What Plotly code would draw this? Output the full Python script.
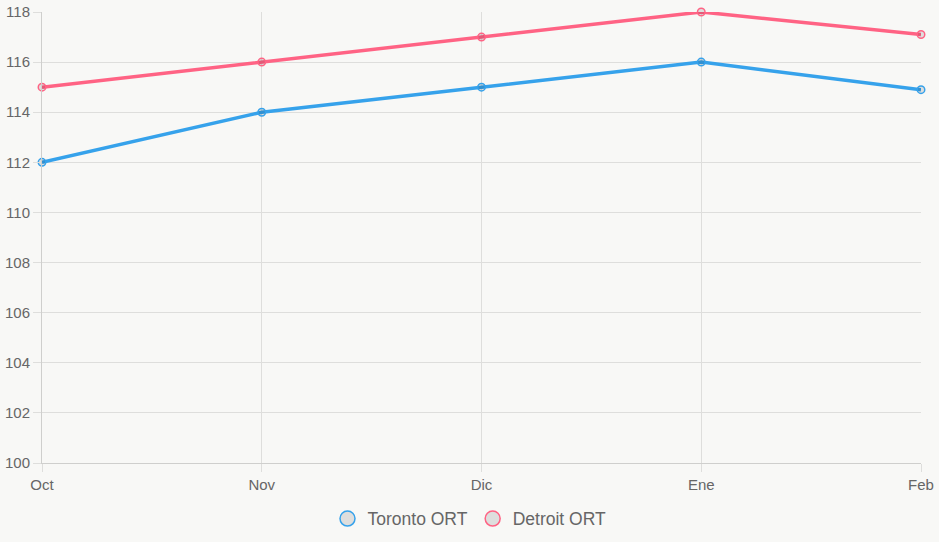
import plotly.graph_objects as go

months = ["Oct", "Nov", "Dic", "Ene", "Feb"]
toronto = [112, 114, 115, 116, 114.9]
detroit = [115, 116, 117, 118, 117.1]
y_ticks = [100, 102, 104, 106, 108, 110, 112, 114, 116, 118]

series = [
    ("Toronto ORT", toronto, "rgb(54,162,235)"),
    ("Detroit ORT", detroit, "rgb(255,99,132)"),
]

fig = go.Figure()
for name, vals, col in series:
    fig.add_trace(go.Scatter(
        x=months, y=vals, mode="lines+markers", name=name, showlegend=False,
        cliponaxis=False,
        line=dict(color=col, width=3.5),
        marker=dict(size=7.5, color="rgba(0,0,0,0.1)", line=dict(color=col, width=1.5)),
    ))
for name, vals, col in series:
    fig.add_trace(go.Scatter(
        x=[None], y=[None], mode="markers", name=name,
        marker=dict(size=15, color="rgba(0,0,0,0.1)", line=dict(color=col, width=1.5)),
    ))

grid = "#dededc"
fig.update_layout(
    width=939, height=542,
    margin=dict(l=42, r=18, t=12, b=79),
    paper_bgcolor="#f8f8f6", plot_bgcolor="#f8f8f6",
    font=dict(family="Liberation Sans, Arial, sans-serif", color="#666", size=14),
    legend=dict(orientation="h", x=0.5, xanchor="center", xref="container",
                y=0.043, yanchor="middle", yref="container",
                font=dict(size=17.5, color="#666"), itemwidth=30, traceorder="normal"),
    xaxis=dict(showgrid=True, gridcolor=grid, gridwidth=1, range=[0, 4],
               showline=True, linecolor="#cfcfcd", linewidth=1, automargin=False,
               ticks="outside", ticklen=8, tickcolor=grid, zeroline=False,
               tickfont=dict(size=15, color="#666")),
    yaxis=dict(showgrid=True, gridcolor=grid, gridwidth=1, range=[100, 118],
               tickvals=y_ticks, showline=True, linecolor="#cfcfcd", linewidth=1,
               automargin=False,
               ticks="outside", ticklen=8, tickcolor=grid, zeroline=False,
               tickfont=dict(size=15, color="#666")),
)

fig.write_html("out.html")
